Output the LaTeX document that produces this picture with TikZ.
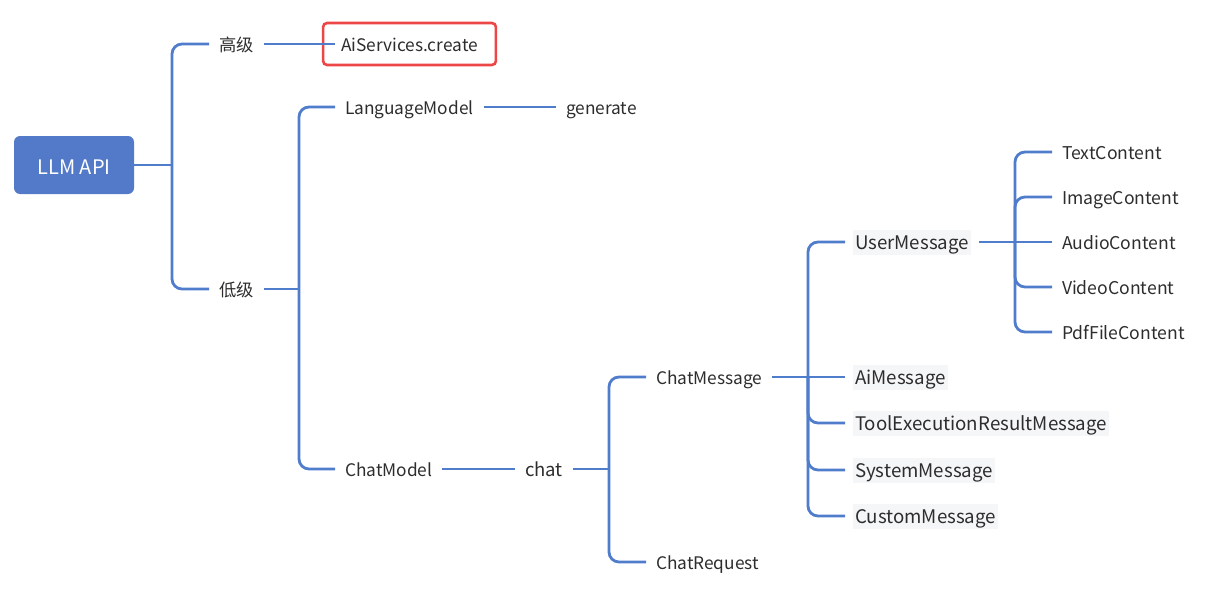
\documentclass[tikz,border=0pt]{standalone}
\usepackage{fontspec}
\setmainfont{Noto Sans CJK SC}
\definecolor{branch}{RGB}{80,124,204}
\definecolor{rootblue}{RGB}{82,122,200}
\definecolor{boxred}{RGB}{236,70,70}
\definecolor{msgbg}{RGB}{245,246,247}
\definecolor{txt}{RGB}{45,45,45}
\begin{document}
\begin{tikzpicture}[x=1pt,y=-1pt,font=\fontsize{17.3}{20}\selectfont,
lbl/.style={text=txt,anchor=west,inner xsep=2pt,inner ysep=2pt,outer xsep=8pt,minimum height=25pt,text height=17pt,text depth=1.8pt},
msg/.style={lbl,fill=msgbg,font=\fontsize{18.7}{22}\selectfont},
part/.style={lbl,font=\fontsize{17.6}{21}\selectfont},
link/.style={draw=branch,line width=2.8pt,rounded corners=10pt}]
\useasboundingbox(0,0)rectangle(1206,607);
\node[fill=rootblue,rounded corners=6pt,text=white,minimum width=120pt,minimum height=58pt,text height=19pt,text depth=1pt,font=\fontsize{20}{24}\selectfont](root)at(74,165){LLM API};
\node[lbl](hi)at(209,44){高级};
\node[lbl](lo)at(209,289){低级};
\node[draw=boxred,line width=2.6pt,rounded corners=4pt,text=txt,inner xsep=18pt,minimum height=42pt,text height=17pt,text depth=1.8pt](ais)at(409.5,44){AiServices.create};
\node[lbl](lm)at(335,107){LanguageModel};
\node[lbl](gen)at(556,107){generate};
\node[lbl](cm)at(335,469){ChatModel};
\node[lbl,font=\fontsize{18.5}{22}\selectfont](chat)at(515,469){chat};
\node[lbl](cmsg)at(646,377){ChatMessage};
\node[lbl](creq)at(646,562){ChatRequest};
\node[msg](user)at(845,242){UserMessage};
\node[msg](ai)at(845,377){AiMessage};
\node[msg](tool)at(845,423){ToolExecutionResultMessage};
\node[msg](sys)at(845,470){SystemMessage};
\node[msg](cust)at(845,516){CustomMessage};
\foreach \n/\t/\y in {tc/TextContent/152,ic/ImageContent/197,ac/AudioContent/242,vc/VideoContent/287,pc/PdfFileContent/332}
  \node[part](\n)at(1052,\y){\t};
\coordinate(s1)at(172,165);
\coordinate(s2)at(299,289);
\coordinate(s3)at(609,469);
\coordinate(s4)at(808,377);
\coordinate(s5)at(1015,242);
\draw[link](root.east)--(s1);
\draw[link](s1)|-(hi.west);
\draw[link](s1)|-(lo.west);
\draw[link](hi.east)--([xshift=13pt]ais.west);
\draw[link](lo.east)--(s2);
\draw[link](s2)|-(lm.west);
\draw[link](s2)|-(cm.west);
\draw[link](lm.east)--(gen.west);
\draw[link](cm.east)--(chat.west);
\draw[link](chat.east)--(s3);
\draw[link](s3)|-(cmsg.west);
\draw[link](s3)|-(creq.west);
\draw[link](cmsg.east)--(ai.west);
\foreach \n in {user,tool,sys,cust}
  \draw[link](s4)|-(\n.west);
\draw[link](user.east)--(ac.west);
\foreach \n in {tc,ic,vc,pc}
  \draw[link](s5)|-(\n.west);
\end{tikzpicture}
\end{document}
